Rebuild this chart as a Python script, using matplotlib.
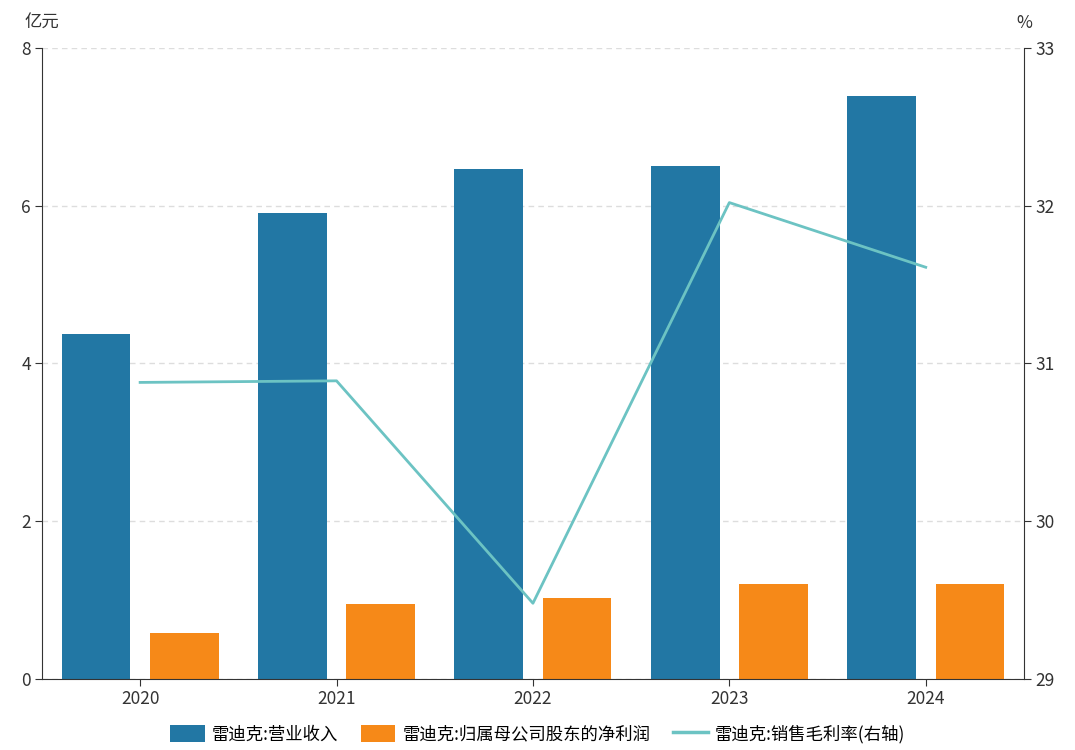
import numpy as np
import matplotlib.pyplot as plt
from matplotlib.patches import Patch
from matplotlib.lines import Line2D

plt.rcParams['font.family'] = ['Noto Sans CJK SC', 'DejaVu Sans']

years = ['2020', '2021', '2022', '2023', '2024']
revenue = [4.37, 5.91, 6.46, 6.51, 7.39]        # 营业收入 亿元
net_profit = [0.58, 0.95, 1.03, 1.20, 1.20]     # 归母净利润 亿元
gross_margin = [30.88, 30.89, 29.48, 32.02, 31.61]  # 销售毛利率 %

blue = '#2277a4'
orange = '#f68918'
teal = '#6cc3c3'

fig = plt.figure(figsize=(10.75, 7.5), dpi=100)
ax = fig.add_axes([0.039, 0.0947, 0.9135, 0.8413])
x = np.arange(len(years))
w = 0.35
ax.bar(x - 0.225, revenue, w, color=blue, zorder=2)
ax.bar(x + 0.225, net_profit, w, color=orange, zorder=2)
ax.set_xlim(-0.5, 4.5)
ax.set_ylim(0, 8)
ax.set_yticks([0, 2, 4, 6, 8])
ax.set_xticks(x)
ax.set_xticklabels(years)
ax.yaxis.grid(True, linestyle=(0, (4, 3)), color='#dddddd', linewidth=1)
ax.set_axisbelow(True)
ax.spines['top'].set_visible(False)
ax.spines['right'].set_visible(False)
for s in ['left', 'bottom']:
    ax.spines[s].set_color('#333333')
ax.tick_params(axis='both', colors='#333333', labelsize=12.5, length=5, pad=3)
ax.text(0.0, 1.025, '亿元', transform=ax.transAxes, ha='center', va='bottom',
        fontsize=12.5, color='#333333')

ax2 = ax.twinx()
ax2.plot(x, gross_margin, color=teal, linewidth=2, zorder=3)
ax2.set_ylim(29, 33)
ax2.set_yticks([29, 30, 31, 32, 33])
ax2.spines['top'].set_visible(False)
ax2.spines['left'].set_visible(False)
ax2.spines['bottom'].set_visible(False)
ax2.spines['right'].set_color('#333333')
ax2.tick_params(axis='y', colors='#333333', labelsize=12.5, length=5, pad=3)
ax2.text(1.0, 1.025, '%', transform=ax2.transAxes, ha='center', va='bottom',
         fontsize=12.5, color='#333333')

handles = [Patch(facecolor=blue, label='雷迪克:营业收入'),
           Patch(facecolor=orange, label='雷迪克:归属母公司股东的净利润'),
           Line2D([0], [0], color=teal, linewidth=2.5, label='雷迪克:销售毛利率(右轴)')]
fig.legend(handles=handles, loc='lower center', bbox_to_anchor=(0.5, -0.012), ncol=3,
           frameon=False, fontsize=12.5, handlelength=2.0, handleheight=1.1,
           columnspacing=1.3, handletextpad=0.4)

fig.savefig('out.png', dpi=100)
